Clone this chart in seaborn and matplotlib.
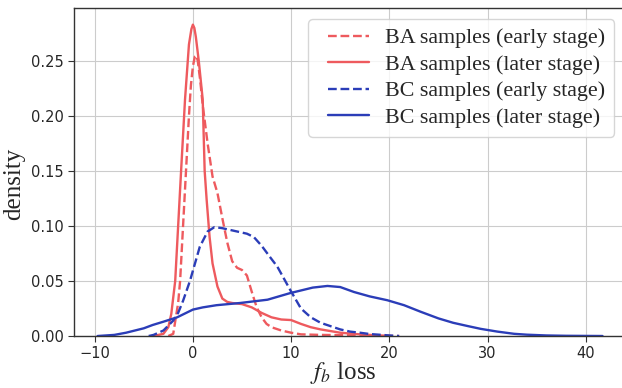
import pandas as pd
import matplotlib
matplotlib.use("Agg")
import matplotlib.pyplot as plt
from matplotlib.legend_handler import HandlerLine2D
from matplotlib.lines import Line2D
import seaborn as sns

# Density curves (x = f_b loss, y = density)
ba_early_x = [-2.5, -2.0, -1.5, -1.3, -1.0, -0.7, -0.4, -0.2, 0.0, 0.2, 0.35, 0.5, 0.75, 1.0, 1.5,
              2.0, 2.5, 3.0, 3.5, 4.0, 4.5, 5.0, 5.5, 6.0, 6.5, 7.0, 7.5, 8.0, 9.0, 10.0, 11.0,
              13.0, 15.0, 18.0, 21.0]
ba_early_y = [0.0, 0.002, 0.03, 0.05, 0.10, 0.15, 0.20, 0.228, 0.245, 0.254, 0.255, 0.25, 0.232, 0.21,
              0.175, 0.145, 0.13, 0.107, 0.085, 0.068, 0.062, 0.06, 0.055, 0.04, 0.026, 0.017, 0.011,
              0.008, 0.005, 0.003, 0.0015, 0.001, 0.0008, 0.0003, 0.0]

ba_later_x = [-4.0, -3.0, -2.5, -2.2, -1.8, -1.5, -1.2, -0.8, -0.4, -0.15, 0.0, 0.15, 0.3, 0.6, 1.0,
              1.2, 1.4, 1.7, 2.0, 2.5, 3.0, 3.5, 4.0, 5.0, 6.0, 7.0, 8.0, 9.0, 10.0, 11.0, 12.0,
              13.0, 14.0, 15.0, 17.0, 19.0, 20.0]
ba_later_y = [0.0, 0.002, 0.008, 0.02, 0.05, 0.10, 0.15, 0.215, 0.265, 0.279, 0.283, 0.280, 0.272,
              0.25, 0.215, 0.15, 0.124, 0.09, 0.066, 0.045, 0.034, 0.031, 0.03, 0.029, 0.026, 0.021,
              0.017, 0.015, 0.0145, 0.011, 0.008, 0.006, 0.0045, 0.003, 0.0015, 0.0005, 0.0002]

bc_early_x = [-4.5, -4.0, -3.0, -2.0, -1.5, -1.0, -0.3, 0.7, 1.5, 2.2, 3.0, 4.0, 5.0, 5.5, 6.2, 7.0,
              8.0, 8.6, 9.9, 11.0, 12.0, 13.0, 14.0, 15.0, 16.0, 17.0, 18.0, 20.0, 21.0]
bc_early_y = [0.0, 0.001, 0.005, 0.014, 0.021, 0.032, 0.05, 0.081, 0.095, 0.099, 0.098, 0.096, 0.094,
              0.093, 0.09, 0.082, 0.07, 0.063, 0.042, 0.025, 0.017, 0.012, 0.009, 0.006, 0.004, 0.003,
              0.0018, 0.0005, 0.0]

bc_later_x = [-9.7, -8.0, -6.8, -5.0, -4.1, -3.0, -1.6, 0.0, 1.0, 2.4, 4.8, 7.6, 9.9, 12.2, 13.7, 15.0,
              16.4, 18.0, 19.8, 21.5, 23.2, 25.0, 26.5, 28.0, 29.3, 31.0, 32.7, 34.0, 36.0, 38.0, 41.7]
bc_later_y = [0.0, 0.001, 0.003, 0.007, 0.010, 0.013, 0.017, 0.024, 0.026, 0.028, 0.030, 0.033, 0.039,
              0.044, 0.0455, 0.0445, 0.040, 0.036, 0.0325, 0.028, 0.022, 0.016, 0.012, 0.009, 0.0065,
              0.004, 0.002, 0.0012, 0.0005, 0.0002, 0.0]

labels = ["BA samples (early stage)", "BA samples (later stage)",
          "BC samples (early stage)", "BC samples (later stage)"]

RED = "#EE5A5E"
BLUE = "#2B3DB8"

sns.set_style("whitegrid", {"axes.edgecolor": "0.2", "grid.color": "0.8",
                            "xtick.bottom": True, "ytick.left": True})
plt.rcParams["font.family"] = ["DejaVu Sans"]
plt.rcParams["mathtext.fontset"] = "stix"

fig = plt.figure(figsize=(6.22, 3.88), dpi=100)
ax = fig.add_axes([0.119, 0.134, 1.005 - 0.119, 0.979 - 0.134])

curves = [
    (ba_early_x, ba_early_y, RED, "--"),
    (ba_later_x, ba_later_y, RED, "-"),
    (bc_early_x, bc_early_y, BLUE, "--"),
    (bc_later_x, bc_later_y, BLUE, "-"),
]
for (xs, ys, color, ls), label in zip(curves, labels):
    df = pd.DataFrame({"loss": xs, "density": ys})
    sns.lineplot(data=df, x="loss", y="density", ax=ax, color=color,
                 linestyle=ls, linewidth=1.7, label=label, sort=False)

ax.set_xlim(-12.1, 44.0)
ax.set_ylim(0, 0.298)
ax.set_xticks([-10, 0, 10, 20, 30, 40])
ax.set_yticks([0.0, 0.05, 0.10, 0.15, 0.20, 0.25])
ax.set_yticklabels(["0.00", "0.05", "0.10", "0.15", "0.20", "0.25"])
ax.tick_params(axis="both", labelsize=10.5, length=4, width=0.8, color="0.2")
for s in ax.spines.values():
    s.set_linewidth(1.0)

serif = {"family": ["Liberation Serif", "DejaVu Serif"]}
ax.set_xlabel(r"$f_b$ loss", fontsize=18, fontdict=serif)
ax.set_ylabel("density", fontsize=18, fontdict=serif)
ax.xaxis.set_label_coords(0.489, -0.073)
ax.yaxis.set_label_coords(-0.089, 0.465)

ax.legend(loc="upper right", prop={"family": "Liberation Serif", "size": 15.8},
          labelspacing=0.28, borderaxespad=0.5, handlelength=2.35,
          handletextpad=0.75,
          handler_map={Line2D: HandlerLine2D(xpad=0.5)})

fig.savefig("out.png", dpi=100)
